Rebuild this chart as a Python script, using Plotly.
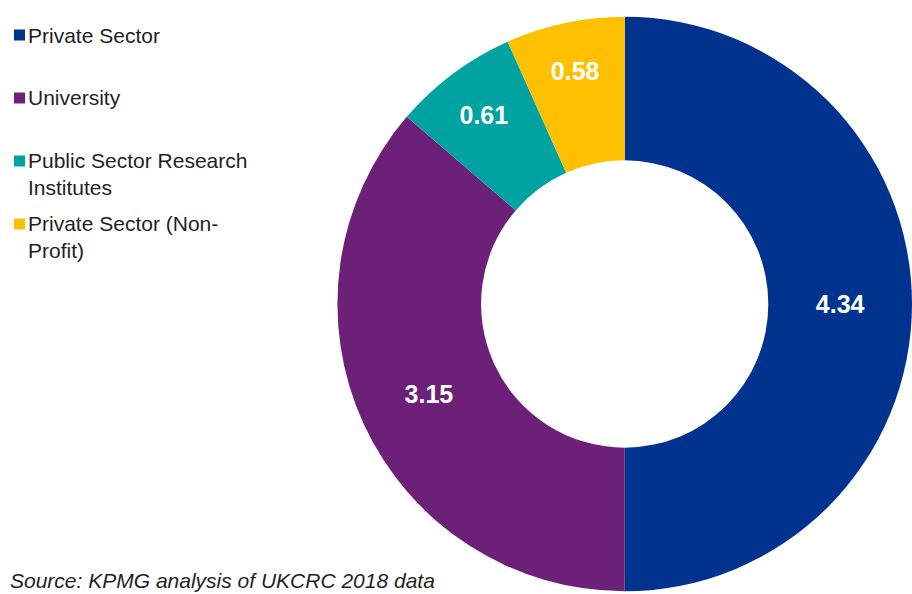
import plotly.graph_objects as go

# Données — répartition
labels = ["Private Sector", "University", "Public Sector Research<br>Institutes",
          "Private Sector (Non-<br>Profit)"]
values = [4.34, 3.15, 0.61, 0.58]
colors = ["#00338D", "#6D2077", "#00A3A1", "#FFC000"]
source_note = "Source: KPMG analysis of UKCRC 2018 data"

W, H = 912, 594
TOP = 14
FONT = "Liberation Sans, Arial"


def py(y_px):
    # pixel from top -> paper fraction (plot area = TOP..H)
    return (H - y_px) / (H - TOP)


fig = go.Figure(go.Pie(
    labels=[l.replace("<br>", "") for l in labels],
    values=values,
    hole=0.5,
    sort=False,
    direction="clockwise",
    rotation=0,
    marker=dict(colors=colors, line=dict(width=0)),
    textinfo="value",
    texttemplate="<b>%{value:.2f}</b>",
    textposition="inside",
    insidetextorientation="horizontal",
    textfont=dict(family=FONT, size=25, color="white"),
    hovertemplate="%{label}: %{value:.2f}<extra></extra>",
    domain=dict(x=[0.37, 1.0], y=[0.0, 1.0]),
    showlegend=False,
))

# Légende dessinée à la main (carré + texte), espacement régulier
LINE_H = 26
for i, (lab, col) in enumerate(zip(labels, colors)):
    yc = 35 + i * 63
    n = lab.count("<br>") + 1
    fig.add_shape(type="rect", xref="paper", yref="paper",
                  x0=14 / W, x1=25 / W, y0=py(yc + 5.5), y1=py(yc - 5.5),
                  fillcolor=col, line=dict(width=0))
    fig.add_annotation(x=26 / W, y=py(yc + (n - 1) * LINE_H / 2),
                       xref="paper", yref="paper",
                       xanchor="left", yanchor="middle", align="left",
                       text=lab, showarrow=False,
                       font=dict(family=FONT, size=21, color="#1f1f1f"))

fig.add_annotation(
    x=8 / W, y=0.0, xref="paper", yref="paper",
    xanchor="left", yanchor="bottom",
    text=f"<i>{source_note}</i>", showarrow=False,
    font=dict(family=FONT, size=21, color="#1f1f1f"),
)

fig.update_layout(
    width=W, height=H,
    margin=dict(l=0, r=0, t=TOP, b=0),
    paper_bgcolor="white",
    plot_bgcolor="white",
    font=dict(family=FONT, size=20, color="#1f1f1f"),
)

fig.write_html("out.html",
               config={"displayModeBar": False},
               post_script="document.body.style.margin='0';"
                           "document.body.style.overflow='hidden';")
